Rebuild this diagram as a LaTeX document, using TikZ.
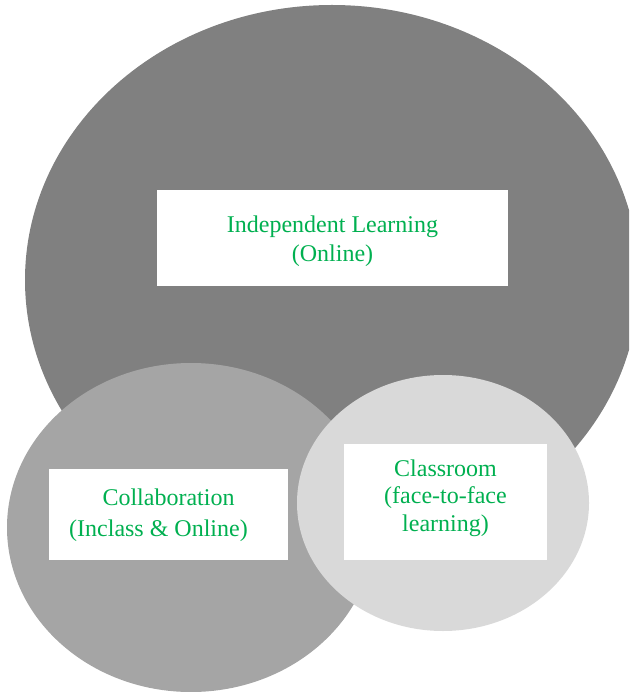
\documentclass[tikz,border=0pt]{standalone}
\usepackage{fontspec}
\setmainfont{Liberation Serif}
\usetikzlibrary{shapes.geometric}
\definecolor{labelgreen}{RGB}{0,176,80}
\definecolor{bigdisc}{RGB}{128,128,128}
\definecolor{middisc}{RGB}{165,165,165}
\definecolor{smalldisc}{RGB}{217,217,217}
\tikzset{
  disc/.style={ellipse, draw=none, inner sep=0pt},
  labelbox/.style={rectangle, fill=white, draw=none, inner sep=0pt},
  caption/.style={inner sep=0pt, align=center, text=labelgreen},
}
\begin{document}
\begin{tikzpicture}[x=1pt, y=-1pt]
  \useasboundingbox (0,0) rectangle (629,692);
  \clip (0,0) rectangle (629,692);
  % overlapping discs, back to front
  \node[disc, fill=bigdisc, minimum width=614pt, minimum height=550pt] (online) at (332,280) {};
  \node[disc, fill=middisc, minimum width=368pt, minimum height=329pt] (collab) at (191,527.5) {};
  \node[disc, fill=smalldisc, minimum width=292pt, minimum height=256pt] (class) at (443,503) {};
  % white caption boxes
  \node[labelbox, minimum width=351pt, minimum height=96pt] (indepbox) at (332.5,238) {};
  \node[labelbox, minimum width=239pt, minimum height=91pt] (collabbox) at (168.5,514.5) {};
  \node[labelbox, minimum width=203pt, minimum height=116pt] (classbox) at (445.5,502) {};
  % captions
  \node[caption, font=\fontsize{24pt}{29pt}\selectfont, yshift=-3pt] (indeptext) at (indepbox)
    {Independent Learning\\(Online)};
  \node[caption, font=\fontsize{24pt}{31pt}\selectfont, yshift=-1pt] (collabtext) at (collabbox)
    {Collaboration\\(Inclass \& Online)\hspace*{20pt}};
  \node[caption, font=\fontsize{24pt}{27.5pt}\selectfont, yshift=4pt] (classtext) at (classbox)
    {Classroom\\(face-to-face\\learning)};
\end{tikzpicture}
\end{document}
